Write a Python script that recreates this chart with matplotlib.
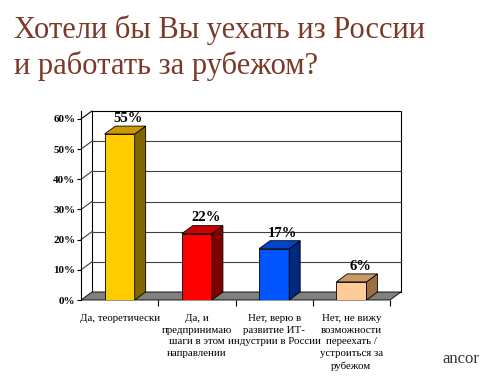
import matplotlib.pyplot as plt
from matplotlib.patches import Polygon
import numpy as np

# dados do grafico
categorias = ['Да, теоретически',
              'Да, и\nпредпринимаю\nшаги в этом\nнаправлении',
              'Нет, верю в\nразвитие ИТ-\nиндустрии в России',
              'Нет, не вижу\nвозможности\nпереехать /\nустроиться за\nрубежом']
valores = [55, 22, 17, 6]
cores_frente = ['#FFCC00', '#FF0000', '#0055FF', '#FFCC99']
cores_lado = ['#806600', '#800000', '#002A80', '#997045']
cores_topo = ['#CC9900', '#CC0000', '#0044CC', '#CC9966']
titulo = 'Хотели бы Вы уехать из России\nи работать за рубежом?'

serif = ['Liberation Serif', 'DejaVu Serif']

fig = plt.figure(figsize=(5, 3.8), dpi=100)
fig.patch.set_facecolor('white')

# eixo: frente do grafico
ax = fig.add_axes([81 / 500, 80 / 380, 320 / 500, 189 / 380])
ax.set_xlim(-0.5, 3.642)
ax.set_ylim(0, 62.65)

# profundidade (efeito 3D)
dx = 0.142
dy = 2.65
larg = 0.39
n = len(valores)
x0, x1 = -0.5, n - 0.5

# parede do fundo
ax.add_patch(Polygon([(x0 + dx, dy), (x1 + dx, dy), (x1 + dx, 60 + dy), (x0 + dx, 60 + dy)],
                     closed=True, facecolor='white', edgecolor='black', lw=0.8, clip_on=False, zorder=1))
ax.plot([x0, x0 + dx], [60, 60 + dy], color='black', lw=0.8, clip_on=False, zorder=2)

# linhas de grade
for v in range(10, 60, 10):
    ax.plot([x0 + dx, x1 + dx], [v + dy, v + dy], color='#404040', lw=0.8, clip_on=False, zorder=2)
    ax.plot([x0, x0 + dx], [v, v + dy], color='#404040', lw=0.8, clip_on=False, zorder=2)

# piso
ax.add_patch(Polygon([(x0, 0), (x1, 0), (x1 + dx, dy), (x0 + dx, dy)],
                     closed=True, facecolor='#808080', edgecolor='black', lw=0.6, clip_on=False, zorder=3))

# barras
for i, v in enumerate(valores):
    a, b = i - larg / 2, i + larg / 2
    ax.add_patch(Polygon([(a, 0), (b, 0), (b, v), (a, v)], closed=True,
                         facecolor=cores_frente[i], edgecolor='black', lw=0.6, zorder=5))
    ax.add_patch(Polygon([(b, 0), (b + dx, dy), (b + dx, v + dy), (b, v)], closed=True,
                         facecolor=cores_lado[i], edgecolor='black', lw=0.6, zorder=5))
    ax.add_patch(Polygon([(a, v), (b, v), (b + dx, v + dy), (a + dx, v + dy)], closed=True,
                         facecolor=cores_topo[i], edgecolor='black', lw=0.6, zorder=5))
    ax.text(i + dx * 0.8, v + dy + 0.4, f'{v}%', ha='center', va='bottom',
            fontsize=10.5, fontweight='bold', family=serif, zorder=6)

# eixos
for s in ['top', 'right', 'bottom']:
    ax.spines[s].set_visible(False)
ax.spines['left'].set_linewidth(0.8)
ax.spines['left'].set_zorder(4)
ax.set_yticks(range(0, 61, 10))
ax.set_yticklabels([f'{v}%' for v in range(0, 61, 10)], fontsize=8,
                   fontweight='bold', family=serif)
ax.tick_params(axis='y', direction='out', length=3, width=0.8, pad=1)
ax.set_xticks(range(n))
ax.set_xticklabels(categorias, fontsize=7.8, family=serif, linespacing=1.4, va='top')
ax.set_xticks(np.arange(0.5, n, 1), minor=True)
ax.tick_params(axis='x', which='major', length=0, pad=10)
ax.tick_params(axis='x', which='minor', direction='out', length=4, width=0.8)
ax.patch.set_visible(False)

# titulo
fig.text(14 / 500, 1 - 15 / 380, titulo, ha='left', va='top', fontsize=22,
         family=serif, color='#7A3A28', linespacing=1.27)

# logo
fig.text(442 / 500, 1 - 363 / 380, 'ancor', ha='left', va='baseline', fontsize=12,
         family=serif, color='#333333')

fig.savefig('out.png', dpi=100)
